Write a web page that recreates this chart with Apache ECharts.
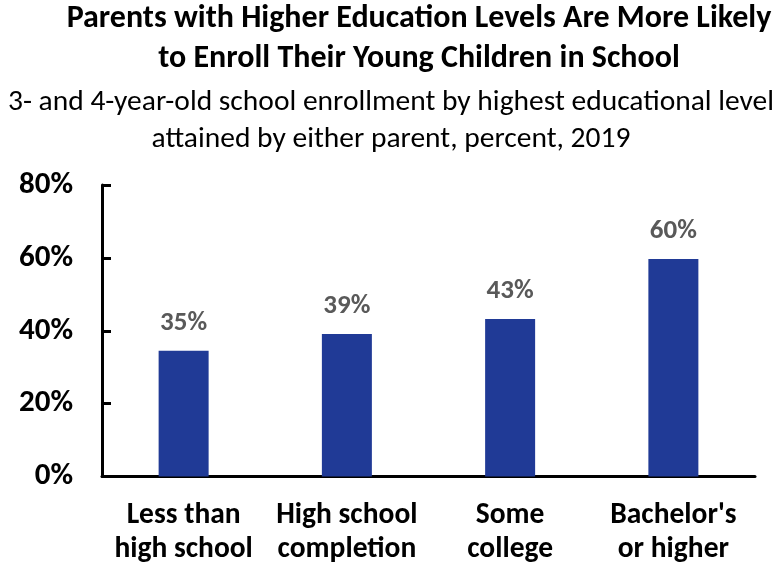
<!DOCTYPE html>
<html>
<head>
<meta charset="utf-8">
<script src="https://cdn.jsdelivr.net/npm/echarts@6/dist/echarts.min.js"></script>
<style>
  html, body { margin: 0; padding: 0; background: #ffffff; }
  #chart { width: 777px; height: 567px; }
</style>
</head>
<body>
<div id="chart"></div>
<script>
  // data
  var categories = ['Less than\nhigh school', 'High school\ncompletion', 'Some\ncollege', "Bachelor's\nor higher"];
  var enrollment = [34.5, 39.1, 43.2, 59.7];
  var yTicks = [0, 20, 40, 60, 80];

  var titleText = 'Parents with Higher Education Levels Are More Likely\nto Enroll Their Young Children in School';
  var subText = '3- and 4-year-old school enrollment by highest educational level\nattained by either parent, percent, 2019';

  var FONT = 'Carlito, Calibri, "Liberation Sans", sans-serif';

  var chart = echarts.init(document.getElementById('chart'));
  chart.setOption({
    animation: false,
    backgroundColor: '#ffffff',
    graphic: [
      {
        type: 'text', x: 419, y: -1,
        style: {
          text: titleText, textAlign: 'center', verticalAlign: 'top', fill: '#000',
          font: 'bold 32px ' + FONT, lineHeight: 40
        }
      },
      {
        type: 'text', x: 391, y: 84,
        style: {
          text: subText, textAlign: 'center', verticalAlign: 'top', fill: '#000',
          font: '29.5px ' + FONT, lineHeight: 37
        }
      }
    ],
    grid: { left: 102, right: 22, top: 185, bottom: 90.5, containLabel: false },
    xAxis: {
      type: 'category',
      data: categories,
      axisLine: { lineStyle: { color: '#000', width: 3 } },
      axisTick: { inside: true, length: 9, lineStyle: { color: '#000', width: 3 } },
      axisLabel: {
        color: '#000', fontWeight: 'bold', fontSize: 29.5, fontFamily: FONT,
        lineHeight: 34, margin: 22, interval: 0
      }
    },
    yAxis: {
      type: 'value',
      min: yTicks[0],
      max: yTicks[yTicks.length - 1],
      interval: 20,
      splitLine: { show: false },
      axisLine: { show: true, lineStyle: { color: '#000', width: 3 } },
      axisTick: { show: true, inside: true, length: 9, lineStyle: { color: '#000', width: 3 } },
      axisLabel: {
        color: '#000', fontWeight: 'bold', fontSize: 31, fontFamily: FONT,
        margin: 29, formatter: '{value}%'
      }
    },
    series: [{
      type: 'bar',
      data: enrollment,
      barWidth: 50,
      itemStyle: { color: '#203a96' },
      label: {
        show: true, position: 'top', distance: 14,
        color: '#595959', fontWeight: 'bold', fontSize: 27, fontFamily: FONT,
        formatter: function (p) { return Math.round(p.value) + '%'; }
      }
    }]
  });
</script>
</body>
</html>
